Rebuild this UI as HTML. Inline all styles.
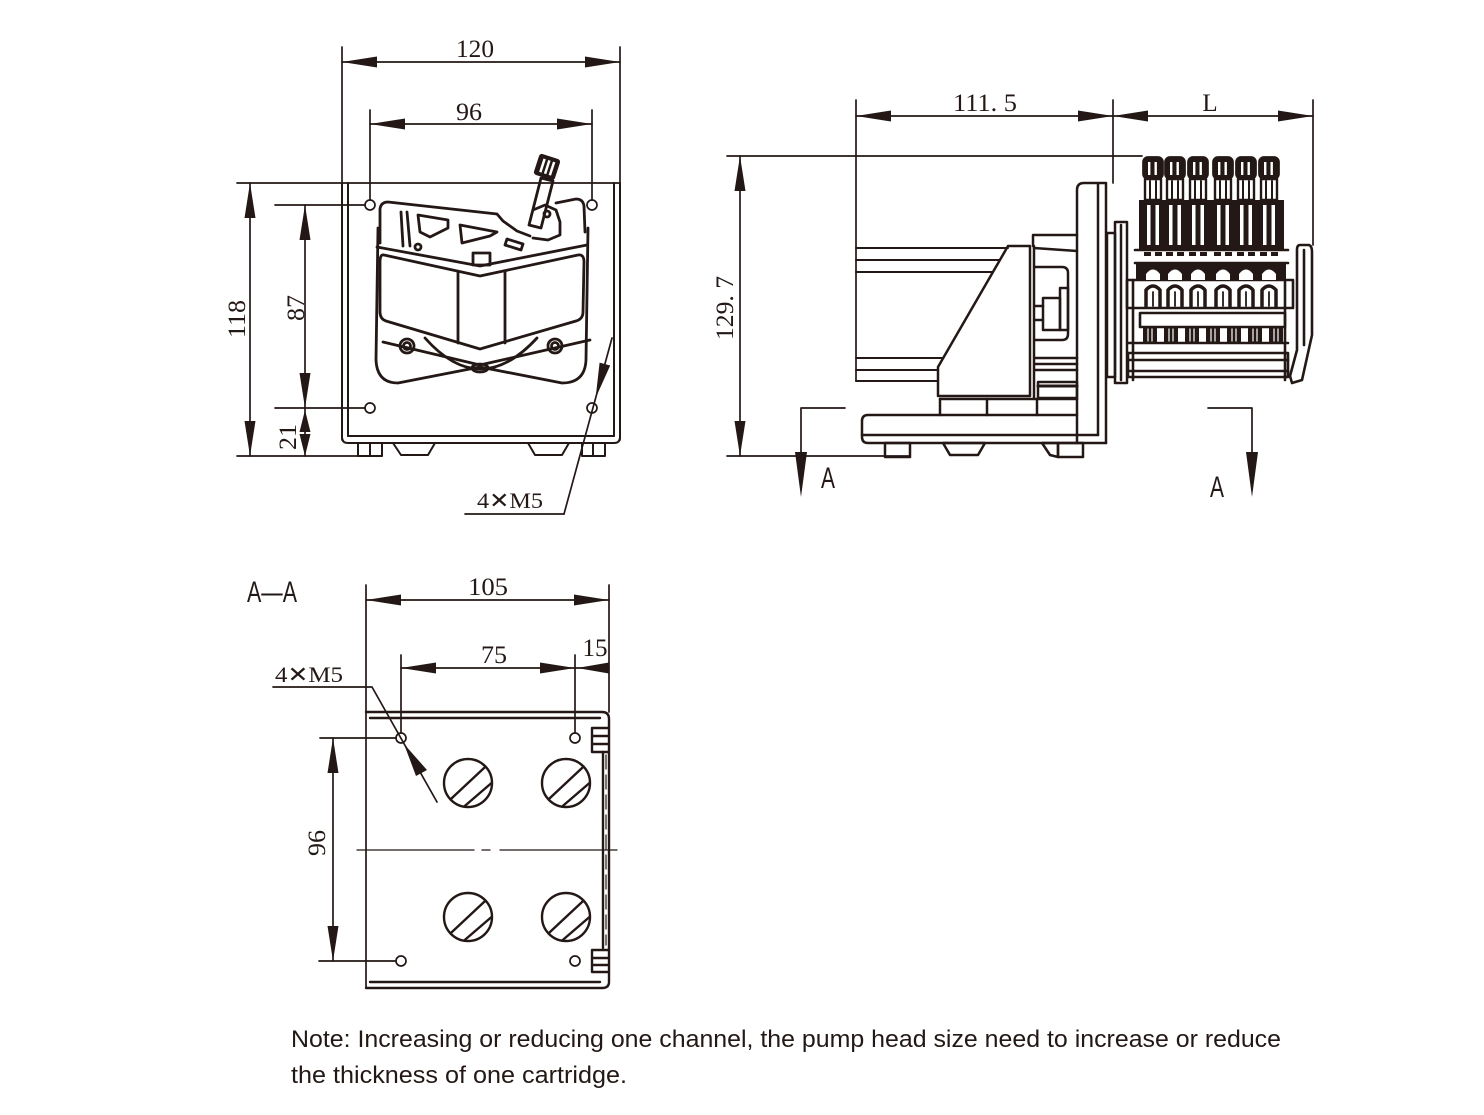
<!DOCTYPE html>
<html><head><meta charset="utf-8"><style>
html,body{margin:0;padding:0;background:#fff;}
svg{display:block;}
.d{font-family:"Liberation Serif",serif;fill:#231815;}
</style></head><body>
<svg width="1484" height="1115" viewBox="0 0 1484 1115" xmlns="http://www.w3.org/2000/svg">
<rect width="1484" height="1115" fill="#fff"/>
<g stroke="#231815" fill="none" stroke-width="1.7" stroke-linejoin="round" stroke-linecap="round">

<!-- ================= FRONT VIEW ================= -->
<line x1="342" y1="47" x2="342" y2="440"/>
<line x1="620" y1="47" x2="620" y2="440"/>
<line x1="342" y1="62" x2="620" y2="62"/>
<line x1="370" y1="110" x2="370" y2="200"/>
<line x1="592" y1="110" x2="592" y2="200"/>
<line x1="370" y1="124" x2="592" y2="124"/>
<line x1="237" y1="183" x2="620" y2="183"/>
<g stroke-width="2">
<path d="M342,183 L342,437 Q342,443 348,443 L614,443 Q620,443 620,437 L620,183"/>
<line x1="348" y1="183" x2="348" y2="436"/>
<line x1="614" y1="183" x2="614" y2="436"/>
<line x1="348" y1="436" x2="614" y2="436"/>
<rect x="358" y="443" width="24" height="13"/>
<line x1="370" y1="443" x2="370" y2="456"/>
<path d="M393,443 L435,443 L428,455 L401,455 Z"/>
<path d="M528,443 L569,443 L562,455 L535,455 Z"/>
<rect x="582" y="443" width="23" height="13"/>
<line x1="593" y1="443" x2="593" y2="456"/>
</g>
<line x1="237" y1="456" x2="382" y2="456"/>
<circle cx="370" cy="205" r="5"/>
<circle cx="592" cy="205" r="5"/>
<circle cx="370" cy="408" r="5"/>
<circle cx="592" cy="408" r="5"/>
<line x1="250" y1="183" x2="250" y2="456"/>
<line x1="275" y1="205" x2="365" y2="205"/>
<line x1="275" y1="408" x2="365" y2="408"/>
<line x1="305" y1="205" x2="305" y2="456"/>
<line x1="612" y1="338" x2="564" y2="514"/>
<line x1="465" y1="514" x2="564" y2="514"/>

<!-- pump head front -->
<g stroke-width="2.8">
<path d="M380,243 L380,209 Q381,202 388,202 L497,214 L503,221 L517,231 L530,236"/>
<path d="M556,203 L576,199 Q583,199 584,206 L585,232"/>
<path d="M418,215 L448,220 L448,228 L430,237 L420,232 Z"/>
<path d="M460,225 L497,232 L490,236 L462,243 Z"/>
<path d="M507,239 L523,244 L521,250 L505,245 Z"/>
<path d="M401,212 L403,246 M407,212 L410,246"/>
<circle cx="418" cy="247" r="3"/>
<path d="M473,253 L490,253 L490,265 L473,265 Z"/>
<path d="M378,228 L376,360 Q377,383 398,383 L480,367 L562,383 Q585,383 586,360 L588,228"/>
<path d="M377,247 L480,266 L587,245"/>
<path d="M384,255 L480,276 L578,255 Q584,254 584,262 L583,312 Q583,319 576,321 L480,349 L386,321 Q380,319 380,312 L380,262 Q380,254 384,255 Z"/>
<line x1="458" y1="272" x2="458" y2="343"/>
<line x1="505" y1="272" x2="505" y2="343"/>
<path d="M383,342 L480,365 L590,340"/>
<path d="M425,338 Q480,400 537,338"/>
<circle cx="407" cy="346" r="7"/>
<circle cx="407" cy="346" r="3.5"/>
<circle cx="555" cy="346" r="7"/>
<circle cx="555" cy="346" r="3.5"/>
<ellipse cx="480" cy="368" rx="8" ry="4"/>
<path d="M541,178 L553,181 L541,228 L529,225 Z"/>
<path d="M533,210 L545,205 L556,210 L560,222 L560,235 L548,240 L533,238"/>
<circle cx="547" cy="214" r="3"/>
</g>
<g transform="translate(547,167) rotate(18)">
<rect x="-11" y="-11" width="22" height="22" rx="3" fill="#231815" stroke="none"/>
<rect x="-6" y="-7" width="2.5" height="14" fill="#fff" stroke="none"/>
<rect x="-1" y="-7" width="2.5" height="14" fill="#fff" stroke="none"/>
<rect x="4" y="-7" width="2.5" height="14" fill="#fff" stroke="none"/>
</g>

<!-- ================= SIDE VIEW ================= -->
<line x1="856" y1="100" x2="856" y2="381"/>
<line x1="1113" y1="100" x2="1113" y2="183"/>
<line x1="1313" y1="100" x2="1313" y2="245"/>
<line x1="856" y1="116" x2="1313" y2="116"/>
<line x1="727" y1="156" x2="1142" y2="156"/>
<line x1="740" y1="156" x2="740" y2="456"/>
<line x1="727" y1="456" x2="910" y2="456"/>
<g stroke-width="2">
<line x1="856" y1="248" x2="1008" y2="248"/>
<line x1="856" y1="260" x2="1000" y2="260"/>
<line x1="856" y1="272" x2="993" y2="272"/>
<line x1="856" y1="358" x2="943" y2="358"/>
<line x1="856" y1="370" x2="938" y2="370"/>
<line x1="856" y1="381" x2="938" y2="381"/>
</g>
<g stroke-width="2.5">
<path d="M1008,246 L1030,246 L1030,396 L938,396 L938,367 Z"/>
<line x1="1034" y1="246" x2="1034" y2="398"/>
<line x1="940" y1="399" x2="1077" y2="399"/>
<path d="M1033,246 L1033,235 L1077,235"/>
<line x1="1034" y1="248" x2="1077" y2="251"/>
<path d="M1035,267 L1062,267 Q1068,267 1068,273 L1068,334 Q1068,340 1062,340 L1035,340"/>
<rect x="1043" y="298" width="17" height="32"/>
<rect x="1060" y="288" width="8" height="42"/>
<line x1="1035" y1="306" x2="1043" y2="306"/>
<line x1="1035" y1="320" x2="1043" y2="320"/>
<line x1="1035" y1="358" x2="1077" y2="358"/>
<line x1="1035" y1="364" x2="1077" y2="364"/>
<line x1="1035" y1="370" x2="1077" y2="370"/>
<rect x="1038" y="382" width="39" height="16"/>
<line x1="1038" y1="386" x2="1077" y2="386" stroke-width="3"/>
<path d="M1077,443 L1077,190 Q1077,183 1084,183 L1106,183 L1106,443"/>
<line x1="1098" y1="184" x2="1098" y2="435"/>
<path d="M1106,443 L868,443 Q862,443 862,437 L862,421 Q862,415 868,415 L1077,415"/>
<line x1="862" y1="435" x2="1098" y2="435"/>
<line x1="940" y1="399" x2="940" y2="415"/>
<line x1="987" y1="399" x2="987" y2="415"/>
<line x1="1037" y1="399" x2="1037" y2="415"/>
<rect x="885" y="443" width="25" height="14"/>
<path d="M943,443 L985,443 L978,455 L950,455 Z"/>
<path d="M1042,443 L1058,443 L1058,457 L1050,455 Z"/>
<rect x="1058" y="443" width="25" height="14"/>
<rect x="1107" y="233" width="8" height="144"/>
<rect x="1115" y="222" width="12" height="161"/>
<line x1="1121" y1="225" x2="1121" y2="380"/>
</g>

<!-- pump head side -->
<rect x="1139" y="200" width="145" height="50" fill="#231815" stroke="none"/>
<rect x="1136" y="263" width="150" height="17" fill="#231815" stroke="none"/>
<g stroke-width="2.6">
<rect x="1127" y="280" width="166" height="28"/>
<rect x="1140" y="313" width="145" height="14"/>
<rect x="1128" y="353" width="160" height="24"/>
<line x1="1128" y1="360" x2="1288" y2="360"/>
<line x1="1128" y1="371" x2="1288" y2="371"/>
<line x1="1128" y1="343" x2="1288" y2="343"/>
<line x1="1133" y1="280" x2="1133" y2="380"/>
<line x1="1285" y1="280" x2="1285" y2="380"/>
<line x1="1135" y1="250" x2="1288" y2="250"/>
<line x1="1135" y1="263" x2="1288" y2="263"/>
<path d="M1300,245 L1309,245 Q1312,246 1312,252 L1312,335 L1302,380 L1292,383 L1290,376 L1297,350 L1297,250 Q1297,245 1300,245 Z"/>
<line x1="1304" y1="250" x2="1304" y2="345"/>
</g>
<g id="cart">
<g transform="translate(1153,0)">
<rect x="-10" y="157" width="20" height="22" rx="5" fill="#231815"/>
<rect x="-5" y="162" width="2.4" height="13" fill="#fff" stroke="none"/>
<rect x="1.5" y="162" width="2.4" height="13" fill="#fff" stroke="none"/>
<rect x="-8" y="179" width="16" height="21" stroke-width="2.4"/>
<line x1="-3" y1="181" x2="-3" y2="200" stroke-width="2"/>
<line x1="3" y1="181" x2="3" y2="200" stroke-width="2"/>
<rect x="-6" y="205" width="3.5" height="40" fill="#fff" stroke="none"/>
<rect x="2.5" y="205" width="3.5" height="40" fill="#fff" stroke="none"/>
<rect x="-9" y="252" width="7" height="4" fill="#231815" stroke="none"/>
<rect x="2" y="252" width="7" height="4" fill="#231815" stroke="none"/>
<path d="M-7,280 L-7,274 Q0,265 7,274 L7,280 Z" fill="#fff" stroke="none"/>
<path d="M-7,306 L-7,290 Q0,282 7,290 L7,306" stroke-width="3.5"/>
<line x1="0" y1="292" x2="0" y2="306" stroke-width="1.8"/>
</g>
</g>
<use href="#cart" transform="translate(22,0)"/>
<use href="#cart" transform="translate(45,0)"/>
<use href="#cart" transform="translate(70,0)"/>
<use href="#cart" transform="translate(93,0)"/>
<use href="#cart" transform="translate(116,0)"/>
<g fill="#231815" stroke="none">
<rect x="1143" y="327" width="14" height="16" rx="2"/>
<rect x="1164" y="327" width="14" height="16" rx="2"/>
<rect x="1185" y="327" width="14" height="16" rx="2"/>
<rect x="1206" y="327" width="14" height="16" rx="2"/>
<rect x="1227" y="327" width="14" height="16" rx="2"/>
<rect x="1248" y="327" width="14" height="16" rx="2"/>
<rect x="1269" y="327" width="14" height="16" rx="2"/>
</g>
<g stroke="#fff" stroke-width="1.2">
<path d="M1148,329 V341 M1152,329 V341 M1169,329 V341 M1173,329 V341 M1190,329 V341 M1194,329 V341 M1211,329 V341 M1215,329 V341 M1232,329 V341 M1236,329 V341 M1253,329 V341 M1257,329 V341 M1274,329 V341 M1278,329 V341"/>
</g>

<path d="M845,408 L801,408 L801,460"/>
<path d="M1208,408 L1252,408 L1252,460"/>

<!-- ================= SECTION A-A ================= -->
<line x1="366" y1="585" x2="366" y2="988"/>
<line x1="609" y1="585" x2="609" y2="712"/>
<line x1="366" y1="600" x2="609" y2="600"/>
<line x1="401" y1="655" x2="401" y2="733"/>
<line x1="575" y1="655" x2="575" y2="733"/>
<line x1="401" y1="668" x2="609" y2="668"/>
<g stroke-width="2.4">
<path d="M366,712 L602,712 Q609,712 609,719 L609,982 Q609,988 602,988 L366,988"/>
<line x1="370" y1="718" x2="600" y2="718"/>
<line x1="370" y1="982" x2="600" y2="982"/>
<line x1="603" y1="752" x2="603" y2="948"/>
<path d="M609,728 L592,728 L592,752 L609,752 M592,736 L609,736 M592,744 L609,744"/>
<path d="M609,950 L592,950 L592,972 L609,972 M592,958 L609,958 M592,965 L609,965"/>
</g>
<line x1="606" y1="755" x2="606" y2="945" stroke-dasharray="14 6" stroke-width="1.2"/>
<circle cx="401" cy="738" r="5"/>
<circle cx="575" cy="738" r="5"/>
<circle cx="401" cy="961" r="5"/>
<circle cx="575" cy="961" r="5"/>
<g stroke-width="2.4">
<circle cx="468" cy="783" r="24"/>
<circle cx="566" cy="783" r="24"/>
<circle cx="468" cy="917" r="24"/>
<circle cx="566" cy="917" r="24"/>
<path d="M450.5,799.4 L485.5,766.6 M464,806.6 L491.5,783"/>
<path d="M548.5,799.4 L583.5,766.6 M562,806.6 L589.5,783"/>
<path d="M450.5,933.4 L485.5,900.6 M464,940.6 L491.5,917"/>
<path d="M548.5,933.4 L583.5,900.6 M562,940.6 L589.5,917"/>
</g>
<path d="M357,850 L474,850 M482,850 L490,850 M500,850 L617,850" stroke-width="1.3"/>
<line x1="333" y1="738" x2="333" y2="961"/>
<line x1="320" y1="738" x2="396" y2="738"/>
<line x1="319" y1="961" x2="396" y2="961"/>
<path d="M273,687 L372,687 L437,802"/>
</g>

<!-- arrowheads -->
<g fill="#231815" stroke="none">
<polygon points="342,62 377,56.5 377,67.5"/>
<polygon points="620,62 585,56.5 585,67.5"/>
<polygon points="370,124 405,118.5 405,129.5"/>
<polygon points="592,124 557,118.5 557,129.5"/>
<polygon points="250,183 244.5,218 255.5,218"/>
<polygon points="250,456 244.5,421 255.5,421"/>
<polygon points="305,205 299.5,240 310.5,240"/>
<polygon points="305,408 299.5,373 310.5,373"/>
<polygon points="305,410 299.5,432 310.5,432"/>
<polygon points="305,456 299.5,434 310.5,434"/>
<polygon points="595.6,398 610.2,365.5 599.6,362.6"/>
<polygon points="856,116 891,110.5 891,121.5"/>
<polygon points="1113,116 1078,110.5 1078,121.5"/>
<polygon points="1113,116 1148,110.5 1148,121.5"/>
<polygon points="1313,116 1278,110.5 1278,121.5"/>
<polygon points="740,156 734.5,191 745.5,191"/>
<polygon points="740,456 734.5,421 745.5,421"/>
<polygon points="801,497 795,452 807,452"/>
<polygon points="1252,497 1246,452 1258,452"/>
<polygon points="366,600 401,594.5 401,605.5"/>
<polygon points="609,600 574,594.5 574,605.5"/>
<polygon points="401,668 436,662.5 436,673.5"/>
<polygon points="575,668 540,662.5 540,673.5"/>
<polygon points="577,668 609,662.5 609,673.5"/>
<polygon points="333,738 327.5,773 338.5,773"/>
<polygon points="333,961 327.5,926 338.5,926"/>
<polygon points="404,744 427,770 416,776"/>
</g>

<g class="d" font-size="25" text-anchor="middle">
<text x="475" y="57" textLength="38" lengthAdjust="spacingAndGlyphs">120</text>
<text x="469" y="120" textLength="26" lengthAdjust="spacingAndGlyphs">96</text>
<text transform="translate(245,319) rotate(-90)" textLength="38" lengthAdjust="spacingAndGlyphs">118</text>
<text transform="translate(304,308) rotate(-90)" textLength="26" lengthAdjust="spacingAndGlyphs">87</text>
<text transform="translate(296,437) rotate(-90)" textLength="26" lengthAdjust="spacingAndGlyphs">21</text>
<text x="985" y="111" textLength="64" lengthAdjust="spacingAndGlyphs">111. 5</text>
<text x="1210" y="111">L</text>
<text transform="translate(733,308) rotate(-90)" textLength="64" lengthAdjust="spacingAndGlyphs">129. 7</text>
<text x="488" y="595" textLength="40" lengthAdjust="spacingAndGlyphs">105</text>
<text x="494" y="663" textLength="26" lengthAdjust="spacingAndGlyphs">75</text>
<text x="595" y="656" textLength="25" lengthAdjust="spacingAndGlyphs">15</text>
<text transform="translate(325,843) rotate(-90)" textLength="26" lengthAdjust="spacingAndGlyphs">96</text>
</g>
<g class="d" font-size="22" text-anchor="middle">
<text x="510" y="508" textLength="66" lengthAdjust="spacingAndGlyphs">4✕M5</text>
<text x="309" y="682" textLength="68" lengthAdjust="spacingAndGlyphs">4✕M5</text>
</g>
<g font-family="Liberation Sans, sans-serif" fill="#231815" font-size="30">
<text x="821" y="488" textLength="14" lengthAdjust="spacingAndGlyphs">A</text>
<text x="1210" y="497" textLength="14" lengthAdjust="spacingAndGlyphs">A</text>
<text x="247" y="602" textLength="50" lengthAdjust="spacingAndGlyphs">A—A</text>
</g>

<g font-family="Liberation Sans, sans-serif" fill="#231815" font-size="24">
<text x="291" y="1047" textLength="990" lengthAdjust="spacingAndGlyphs">Note: Increasing or reducing one channel, the pump head size need to increase or reduce</text>
<text x="291" y="1083" textLength="336" lengthAdjust="spacingAndGlyphs">the thickness of one cartridge.</text>
</g>
</svg>
</body></html>
